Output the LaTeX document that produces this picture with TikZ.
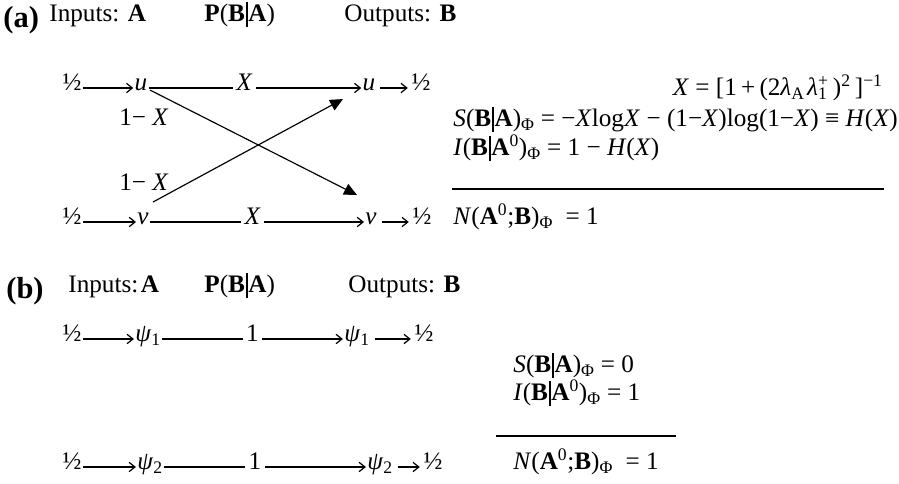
\documentclass[tikz,border=0pt]{standalone}
\usepackage{fontspec}
\setmainfont{Liberation Serif}
\usetikzlibrary{positioning,arrows.meta}
\newcommand{\cbar}{\kern0.03em\rule[-0.22em]{0.075em}{1.0em}\kern0.03em}
\newcommand{\stk}[2]{\rlap{\textsubscript{#1}}\textsuperscript{#2}}

\begin{document}
\begin{tikzpicture}[x=0.03cm, y=-0.03cm,
    every node/.style={font=\fontsize{21.5}{26}\selectfont, inner sep=1pt, anchor=mid},
    tag/.style={anchor=base west, font=\fontsize{26}{28}\selectfont\bfseries},
    head/.style={anchor=mid west},
    wt/.style={fill=white, inner sep=3pt},
    eqn/.style={anchor=mid west},
    feed/.style={-{Straight Barb[length=5pt,width=8pt]}, line width=1.05pt},
    tail/.style={feed, shorten <=3pt, shorten >=2pt},
    cross/.style={-{Triangle[length=11pt,width=10pt]}, line width=1pt},
    rulebar/.style={line width=2.2pt}
  ]
    \useasboundingbox (0,0) rectangle (899,484);

    % (a) headings
    \node[tag]  (taga)  at (2,28)   {(a)};
    \node[head] (ina)   at (48,19)  {Inputs: \textbf{A}};
    \node[head] (pa)    at (203,19) {\textbf{P}(\textbf{B}\cbar\textbf{A})};
    \node[head] (outa)  at (343,19) {Outputs: \textbf{B}};

    % (a) channel
    \node (hA1) at (72,88)   {½};
    \node (u)   at (141,88)  {\textit{u}};
    \node (uo)  at (369,88)  {\textit{u}};
    \node (hB1) at (421,88)  {½};
    \node (hA2) at (72,222)  {½};
    \node (v)   at (143,222) {\textit{v}};
    \node (vo)  at (371,222) {\textit{v}};
    \node (hB2) at (422,222) {½};
    \node (wu)  at (144,123) {1− \textit{X}};
    \node (wv)  at (144,188) {1− \textit{X}};

    \draw[feed] (hA1.mid east) -- (u.mid west);
    \draw[feed] (u.mid east) -- node[wt, pos=.45] {\textit{X}} (uo.mid west);
    \draw[tail] (uo.mid east) -- (hB1.mid west);
    \draw[feed] (hA2.mid east) -- (v.mid west);
    \draw[feed] (v.mid east) -- node[wt, pos=.48] {\textit{X}} (vo.mid west);
    \draw[tail] (vo.mid east) -- (hB2.mid west);
    \draw[cross] ([shift={(9,5)}]u.center) -- ([shift={(-14,-24)}]vo.center);
    \draw[cross] ([shift={(10,-17)}]v.center) -- ([shift={(-26,14)}]uo.center);

    % (a) quantities
    \node[anchor=mid east] (xa) at (884,93) {\textit{X} = [1\,+\,(2\textit{λ}\textsubscript{A}\kern0.1em\textit{λ}\stk{1}{+}\,)\textsuperscript{2}\,]\textsuperscript{−1}};
    \node[eqn] (sa) at (452,124) {\textit{S}(\textbf{B}\cbar\textbf{A})\textsubscript{Φ} = −\textit{X}log\textit{X} − (1−\textit{X})log(1−\textit{X}) ≡ \textit{H}(\textit{X})};
    \node[eqn] (ia) at (452,153) {\textit{I}(\textbf{B}\cbar\textbf{A}\textsuperscript{0})\textsubscript{Φ} = 1 − \textit{H}(\textit{X})};
    \coordinate (ra1) at (452,189);
    \coordinate (ra2) at (884,189);
    \draw[rulebar] (ra1) -- (ra2);
    \node[eqn] (na) at (452,222) {\textit{N}(\textbf{A}\textsuperscript{0};\textbf{B})\textsubscript{Φ} \ = 1};

    % (b) headings
    \node[tag]  (tagb)  at (5,298)   {(b)};
    \node[head] (inb)   at (67,290)  {Inputs:\hspace{0.1em}\textbf{A}};
    \node[head] (pb)    at (203,290) {\textbf{P}(\textbf{B}\cbar\textbf{A})};
    \node[head] (outb)  at (347,290) {Outputs: \textbf{B}};

    % (b) channel
    \node (hA3) at (72,339)  {½};
    \node (p1)  at (148,339) {\textit{ψ}\textsubscript{1}};
    \node (p1o) at (357,339) {\textit{ψ}\textsubscript{1}};
    \node (hB3) at (424,339) {½};
    \node (hA4) at (72,467)  {½};
    \node (p2)  at (150,467) {\textit{ψ}\textsubscript{2}};
    \node (p2o) at (380,467) {\textit{ψ}\textsubscript{2}};
    \node (hB4) at (433,467) {½};

    \draw[feed] (hA3.mid east) -- (p1.mid west);
    \draw[feed] (p1.mid east) -- node[wt] {1} (p1o.mid west);
    \draw[tail] (p1o.mid east) -- (hB3.mid west);
    \draw[feed] (hA4.mid east) -- (p2.mid west);
    \draw[feed] (p2.mid east) -- node[wt, pos=.45] {1} (p2o.mid west);
    \draw[tail] (p2o.mid east) -- (hB4.mid west);

    % (b) quantities
    \node[eqn] (sb) at (512,370) {\textit{S}(\textbf{B}\cbar\textbf{A})\textsubscript{Φ} = 0};
    \node[eqn] (ib) at (512,398) {\textit{I}(\textbf{B}\cbar\textbf{A}\textsuperscript{0})\textsubscript{Φ} = 1};
    \coordinate (rb1) at (496,436);
    \coordinate (rb2) at (676,436);
    \draw[rulebar] (rb1) -- (rb2);
    \node[eqn] (nb) at (512,467) {\textit{N}(\textbf{A}\textsuperscript{0};\textbf{B})\textsubscript{Φ} \ = 1};
  \end{tikzpicture}
\end{document}
